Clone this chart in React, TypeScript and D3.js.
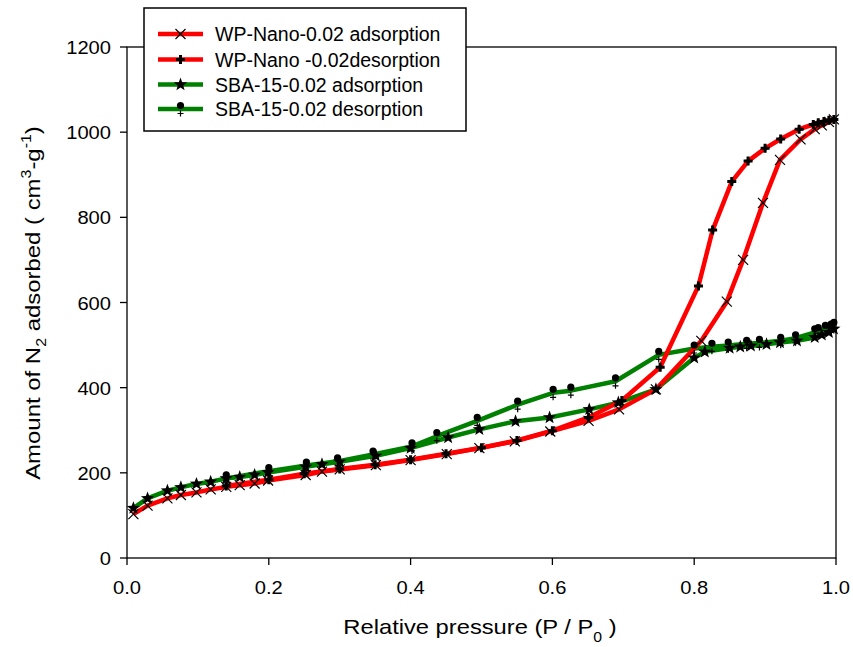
import React from "react";
import * as d3 from "d3";

const wpAdsX = [0.009,0.029,0.057,0.076,0.098,0.118,0.14,0.159,0.18,0.199,0.252,0.275,0.30,0.351,0.40,0.451,0.497,0.547,0.597,0.651,0.694,0.746,0.81,0.846,0.869,0.897,0.921,0.95,0.97,0.98,0.99,0.997];
const wpAdsY = [103,123,140,148,154,161,167,171,175,182,195,203,208,218,230,244,258,274,297,322,349,396,510,602,700,834,935,983,1007,1016,1024,1030];

const wpDesX = [0.997,0.99,0.983,0.975,0.968,0.948,0.922,0.90,0.876,0.853,0.826,0.806,0.752,0.698,0.651,0.60,0.55,0.50,0.45,0.40,0.35,0.30,0.25,0.20,0.14];
const wpDesY = [1030,1028,1025,1022,1018,1007,984,962,932,884,770,639,448,370,330,299,276,259,245,231,219,209,198,184,169];

const sbaAdsX = [0.009,0.029,0.057,0.076,0.098,0.118,0.14,0.159,0.18,0.199,0.252,0.275,0.30,0.351,0.40,0.453,0.497,0.548,0.596,0.652,0.693,0.746,0.80,0.815,0.85,0.865,0.88,0.902,0.921,0.945,0.97,0.98,0.99,0.997];
const sbaAdsY = [117,140,158,166,174,179,187,190,195,201,214,220,226,240,258,283,302,321,330,349,365,396,470,484,493,496,498,502,506,510,518,524,530,538];

const sbaDesX = [0.997,0.993,0.985,0.975,0.97,0.943,0.922,0.892,0.874,0.848,0.825,0.80,0.75,0.689,0.626,0.601,0.551,0.494,0.437,0.402,0.347,0.297,0.253,0.20,0.14];
const sbaDesY = [545,541,538,533,530,516,510,505,503,499,496,492,477,415,393,388,360,322,286,262,243,227,217,204,187];

const xTicks = [0, 0.2, 0.4, 0.6, 0.8, 1.0];
const yTicks = [0, 200, 400, 600, 800, 1000, 1200];

const seriesNames = [
  "WP-Nano-0.02 adsorption",
  "WP-Nano -0.02desorption",
  "SBA-15-0.02 adsorption",
  "SBA-15-0.02 desorption",
];
const seriesColors = ["#ff0000", "#ff0000", "#008000", "#008000"];
const seriesMarkers = ["x", "plus", "star", "dotplus"];

const FONT = "'Liberation Sans', Arial, sans-serif";

function starPath(cx: number, cy: number, R: number, r: number) {
  const pts: string[] = [];
  for (let i = 0; i < 10; i++) {
    const a = -Math.PI / 2 + (i * Math.PI) / 5;
    const rad = i % 2 === 0 ? R : r;
    pts.push(`${(cx + rad * Math.cos(a)).toFixed(2)},${(cy + rad * Math.sin(a)).toFixed(2)}`);
  }
  return "M" + pts.join("L") + "Z";
}

function Marker({ type, x, y }: { type: string; x: number; y: number }) {
  if (type === "x") {
    const s = 5;
    return (
      <path d={`M${x - s},${y - s}L${x + s},${y + s}M${x - s},${y + s}L${x + s},${y - s}`} stroke="#000" strokeWidth={1.2} fill="none" />
    );
  }
  if (type === "plus") {
    const s = 4.5;
    return (
      <path d={`M${x - s},${y}L${x + s},${y}M${x},${y - s}L${x},${y + s}`} stroke="#000" strokeWidth={3} fill="none" />
    );
  }
  if (type === "star") {
    return <path d={starPath(x, y, 7, 2.9)} fill="#000" />;
  }
  const s = 3;
  return (
    <g>
      <circle cx={x} cy={y - 3.5} r={3.6} fill="#000" />
      <path d={`M${x - s},${y + 4.5}L${x + s},${y + 4.5}M${x},${y + 1.5}L${x},${y + 7.5}`} stroke="#000" strokeWidth={1.2} fill="none" />
    </g>
  );
}

export default function App() {
  const W = 853, H = 647;
  const x0 = 127, x1 = 836, yTop = 47, yBot = 558;
  const x = d3.scaleLinear().domain([0, 1]).range([x0, x1]);
  const y = d3.scaleLinear().domain([0, 1200]).range([yBot, yTop]);

  const series = [
    { xs: wpAdsX, ys: wpAdsY },
    { xs: wpDesX, ys: wpDesY },
    { xs: sbaAdsX, ys: sbaAdsY },
    { xs: sbaDesX, ys: sbaDesY },
  ];
  const line = d3.line<[number, number]>().x((d) => x(d[0])).y((d) => y(d[1]));
  const drawOrder = [2, 3, 0, 1];

  const legX0 = 158, legX1 = 203, legTextX = 215;
  const legRows = [34, 59.5, 84.5, 109];

  return (
    <svg width={W} height={H} style={{ position: "absolute", left: 0, top: 0, background: "#fff" }} fontFamily={FONT}>
      <rect x={0} y={0} width={W} height={H} fill="#fff" />
      {drawOrder.map((i) => {
        const pts = series[i].xs.map((v, k) => [v, series[i].ys[k]] as [number, number]);
        return <path key={"l" + i} d={line(pts) || ""} stroke={seriesColors[i]} strokeWidth={4.5} fill="none" strokeLinejoin="round" />;
      })}
      {drawOrder.map((i) =>
        series[i].xs.map((v, k) => (
          <Marker key={`m${i}-${k}`} type={seriesMarkers[i]} x={x(v)} y={y(series[i].ys[k])} />
        ))
      )}
      <rect x={x0} y={yTop} width={x1 - x0} height={yBot - yTop} fill="none" stroke="#000" strokeWidth={1.3} />
      {xTicks.map((t) => (
        <g key={"xt" + t}>
          <line x1={x(t)} x2={x(t)} y1={yBot} y2={yBot + 7} stroke="#000" strokeWidth={1.3} />
          <text x={x(t)} y={594} fontSize={19} textAnchor="middle" fill="#000" textLength={28} lengthAdjust="spacingAndGlyphs">{d3.format(".1f")(t)}</text>
        </g>
      ))}
      {yTicks.map((t) => (
        <g key={"yt" + t}>
          <line x1={x0 - 7} x2={x0} y1={y(t)} y2={y(t)} stroke="#000" strokeWidth={1.3} />
          <text x={111} y={y(t) + 7} fontSize={19} textAnchor="end" fill="#000" textLength={String(t).length * 11.2} lengthAdjust="spacingAndGlyphs">{t}</text>
        </g>
      ))}
      <g transform="translate(480,634) scale(1.13,1)">
        <text x={0} y={0} fontSize={21} textAnchor="middle" fill="#000">
          Relative pressure (P / P<tspan fontSize={14} dy={8}>0</tspan><tspan dy={-8}> )</tspan>
        </text>
      </g>
      <g transform="translate(40,303) rotate(-90) scale(1.14,1)">
        <text x={0} y={0} fontSize={21} textAnchor="middle" fill="#000">
          Amount of N<tspan fontSize={14} dy={6}>2</tspan><tspan dy={-6}> adsorbed ( cm</tspan><tspan fontSize={14} dy={-9}>3</tspan><tspan dy={9}>-g</tspan><tspan fontSize={14} dy={-9}>-1</tspan><tspan dy={9}>)</tspan>
        </text>
      </g>
      <rect x={144} y={8} width={322} height={123} fill="#fff" stroke="#000" strokeWidth={1.5} />
      {seriesNames.map((n, i) => (
        <g key={"lg" + i}>
          <line x1={legX0} x2={legX1} y1={legRows[i]} y2={legRows[i]} stroke={seriesColors[i]} strokeWidth={4.5} />
          <Marker type={seriesMarkers[i]} x={(legX0 + legX1) / 2} y={legRows[i]} />
          <text x={legTextX} y={legRows[i] + 7} fontSize={19.5} fill="#000">{n}</text>
        </g>
      ))}
    </svg>
  );
}
